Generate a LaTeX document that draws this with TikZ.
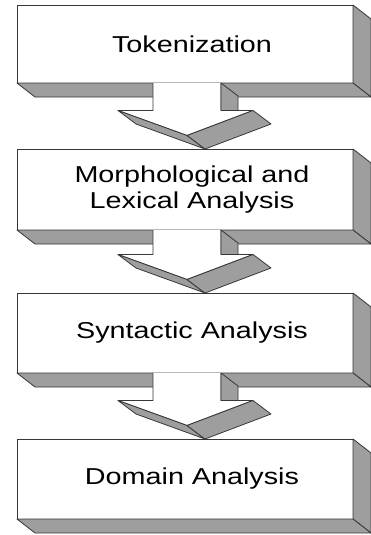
\documentclass[tikz,border=0pt]{standalone}
\usepackage{fontspec}
\setmainfont{Liberation Sans}[FakeStretch=1.25]
\usepackage{tikz}
\usetikzlibrary{calc}
\definecolor{sidegray}{RGB}{158,158,158}
\definecolor{edgegray}{RGB}{55,55,55}

\begin{document}
\begin{tikzpicture}[x=1pt,y=-1pt,line width=.8pt,
  stage/.style={draw=edgegray,fill=white,minimum width=336pt,inner sep=0pt,outer sep=0pt},
  stagetext/.style={align=center,font=\fontsize{23}{26}\selectfont},
  face/.style={draw=edgegray,fill=sidegray,line join=round}]
\useasboundingbox (0,0) rectangle (370,535);
% the four stages
\node[stage,minimum height=78pt] (tok) at (185,44) {};
\node[stage,minimum height=81pt] (morph) at (185,189.5) {};
\node[stage,minimum height=80pt] (synt) at (185,333) {};
\node[stage,minimum height=80pt] (dom) at (185,479) {};
\foreach \s in {tok,morph,synt,dom}{
  \draw[face] (\s.north east) -- ++(18,14) -- ($(\s.south east)+(18,14)$) -- (\s.south east) -- cycle;
  \draw[face] (\s.south west) -- (\s.south east) -- ++(18,14) -- ($(\s.south west)+(18,14)$) -- cycle;
}
\node[stagetext] (tokt) at ([xshift=7pt]tok.center) {Tokenization};
\node[stagetext] (morpht) at ([xshift=7pt]morph.center) {Morphological and\\Lexical Analysis};
\node[stagetext] (syntt) at ([xshift=7pt]synt.center) {Syntactic Analysis};
\node[stagetext] (domt) at ([xshift=7pt]dom.center) {Domain Analysis};
% block arrows
\foreach \a/\b in {tok/morph,morph/synt,synt/dom}{
  \coordinate (sl) at ($(\a.south)+(-32,0)$);
  \coordinate (sr) at ($(\a.south)+(36,0)$);
  \coordinate (tip) at ($(\b.north)+(20,0)$);
  \coordinate (hb) at ($(tip)+(-18,-13.5)$);
  \coordinate (hl) at ($(hb)+(-69,-25)$);
  \coordinate (hr) at ($(hb)+(66,-25)$);
  \filldraw[fill=white,draw=edgegray,line join=round] (sl) -- (sl |- hl) -- (hl) -- (hb) -- (hr) -- (sr |- hr) -- (sr);
  \draw[face] (sr) -- ++(17,13) |- (sr |- hr) -- cycle;
  \draw[face] (hl) -- (hb) -- (tip) -- ($(hl)+(18,13.5)$) -- cycle;
  \draw[face] (hb) -- (hr) -- ($(hr)+(18,13.5)$) -- (tip) -- cycle;
}
\end{tikzpicture}
\end{document}
